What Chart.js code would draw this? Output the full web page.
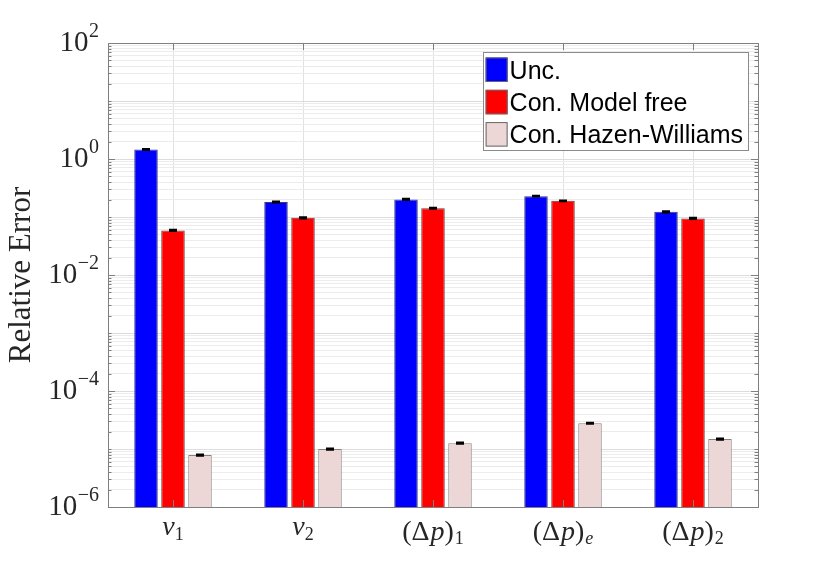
<!DOCTYPE html>
<html>
<head>
<meta charset="utf-8">
<script src="https://cdn.jsdelivr.net/npm/chart.js@4/dist/chart.umd.min.js"></script>
<style>
html,body{margin:0;padding:0;background:#fff;}
#wrap{width:837px;height:570px;}
</style>
</head>
<body>
<div id="wrap"><canvas id="c" width="837" height="570"></canvas></div>
<script>
// category labels in TeX-like notation: '_' starts a subscript, letters are italic
const categories = ['v_1', 'v_2', '(\u0394p)_1', '(\u0394p)_e', '(\u0394p)_2'];
const seriesLabels = ['Unc.', 'Con. Model free', 'Con. Hazen-Williams'];
const unc = [1.46, 0.181, 0.201, 0.229, 0.123];
const modelFree = [0.0588, 0.0969, 0.142, 0.190, 0.0946];
const hazenWilliams = [7.85e-6, 9.96e-6, 1.26e-5, 2.79e-5, 1.48e-5];
const errUnc = [0.04, 0.005, 0.006, 0.006, 0.004];
const errModelFree = [0.0018, 0.003, 0.004, 0.005, 0.003];
const errHazenWilliams = [2.5e-7, 3e-7, 4e-7, 8e-7, 4.5e-7];
const yTickExponents = [-6, -4, -2, 0, 2];

const colors = ['#0000ff', '#ff0000', '#ecd6d6'];
const errs = [errUnc, errModelFree, errHazenWilliams];
const SERIF = '"Liberation Serif", "DejaVu Serif", serif';
const TXT = '#262626';

const errorBarPlugin = {
  id: 'errorBars',
  afterDatasetsDraw(chart) {
    const ctx = chart.ctx, ys = chart.scales.y;
    ctx.save();
    ctx.strokeStyle = '#000';
    chart.data.datasets.forEach((ds, i) => {
      const meta = chart.getDatasetMeta(i);
      meta.data.forEach((el, j) => {
        const v = ds.data[j], e = errs[i][j];
        const yT = ys.getPixelForValue(v + e), yB = ys.getPixelForValue(v - e);
        ctx.lineWidth = 1.2;
        ctx.beginPath(); ctx.moveTo(el.x, yT); ctx.lineTo(el.x, yB); ctx.stroke();
        ctx.lineWidth = 1.6;
        ctx.beginPath();
        ctx.moveTo(el.x - 4, yT); ctx.lineTo(el.x + 4, yT);
        ctx.moveTo(el.x - 4, yB); ctx.lineTo(el.x + 4, yB);
        ctx.stroke();
      });
    });
    ctx.restore();
  }
};

function parseLabel(s) {
  const segs = [];
  let sub = false;
  for (const ch of s) {
    if (ch === '_') { sub = true; continue; }
    segs.push({ ch, sub, italic: /[a-z]/.test(ch) });
  }
  return segs;
}

const labelsPlugin = {
  id: 'texLabels',
  afterDraw(chart) {
    const ctx = chart.ctx, a = chart.chartArea, ys = chart.scales.y, xs = chart.scales.x;
    ctx.save();
    ctx.fillStyle = TXT;
    ctx.textBaseline = 'alphabetic';
    ctx.textAlign = 'left';
    // y tick labels 10^n
    yTickExponents.forEach(e => {
      const y = ys.getPixelForValue(Math.pow(10, e));
      const supTxt = (e < 0 ? '\u2212' : '') + Math.abs(e);
      ctx.font = '20px ' + SERIF;
      const sw = ctx.measureText(supTxt).width;
      ctx.font = '29px ' + SERIF;
      const mw = ctx.measureText('10').width;
      const right = a.left - 9;
      const sx = right - sw;
      ctx.font = '29px ' + SERIF;
      ctx.fillText('10', sx - mw - 0.5, y + 7.8);
      ctx.font = '20px ' + SERIF;
      ctx.fillText(supTxt, sx, y - 5.8);
    });
    // x category labels
    const main = 28, subs = 18;
    categories.forEach((lab, i) => {
      const cx = xs.getPixelForValue(i);
      const segs = parseLabel(lab);
      const fontOf = sg => (sg.italic ? 'italic ' : '') + (sg.sub ? subs : main) + 'px ' + SERIF;
      let w = 0;
      segs.forEach(sg => { ctx.font = fontOf(sg); sg.w = ctx.measureText(sg.ch).width + (sg.ch === '\u0394' ? 1 : 0) + (sg.ch === ')' ? 1 : 0); w += sg.w; });
      const tall = segs.some(sg => sg.ch === '(');
      const base = tall ? 539.5 : 535;
      let x = cx - w / 2;
      segs.forEach(sg => {
        ctx.font = fontOf(sg);
        ctx.fillText(sg.ch, x, sg.sub ? base + 4.5 : base);
        x += sg.w;
      });
    });
    ctx.restore();
  }
};

const frameLegendPlugin = {
  id: 'frameLegend',
  afterDraw(chart) {
    const ctx = chart.ctx, a = chart.chartArea, ys = chart.scales.y, xs = chart.scales.x;
    ctx.save();
    ctx.strokeStyle = '#7f7f7f';
    ctx.lineWidth = 1;
    ctx.strokeRect(Math.round(a.left) + 0.5, Math.round(a.top) + 0.5, Math.round(a.right - a.left), Math.round(a.bottom - a.top));
    ys.ticks.forEach(t => {
      const y = Math.round(ys.getPixelForValue(t.value)) + 0.5;
      const lg = Math.log10(t.value);
      const major = Math.abs(lg - Math.round(lg)) < 1e-9 && Math.round(lg) % 2 === 0;
      const len = major ? 7 : 3.5;
      ctx.beginPath();
      ctx.moveTo(a.left, y); ctx.lineTo(a.left + len, y);
      ctx.moveTo(a.right, y); ctx.lineTo(a.right - len, y);
      ctx.stroke();
    });
    categories.forEach((c, i) => {
      const x = Math.round(xs.getPixelForValue(i)) + 0.5;
      ctx.beginPath();
      ctx.moveTo(x, a.bottom); ctx.lineTo(x, a.bottom - 7);
      ctx.moveTo(x, a.top); ctx.lineTo(x, a.top + 7);
      ctx.stroke();
    });
    // legend
    ctx.font = '25px "Liberation Sans", Arial, sans-serif';
    let tw = 0;
    chart.data.datasets.forEach(ds => { tw = Math.max(tw, ctx.measureText(ds.label).width); });
    const bw = 3 + 22 + 2 + tw + 5;
    const bx = 748 - bw, by = 52, bh = 98;
    ctx.fillStyle = '#fff';
    ctx.fillRect(bx, by, bw, bh);
    ctx.strokeStyle = '#8a8a8a';
    ctx.strokeRect(Math.round(bx) + 0.5, by + 0.5, Math.round(bw), bh);
    chart.data.datasets.forEach((ds, i) => {
      const sy = by + 5.5 + i * 32.3;
      ctx.fillStyle = ds.backgroundColor;
      ctx.fillRect(bx + 3, sy, 22, 24.5);
      ctx.strokeStyle = '#666';
      ctx.strokeRect(bx + 3.5, sy + 0.5, 21, 23.5);
      ctx.fillStyle = '#000';
      ctx.textBaseline = 'alphabetic';
      ctx.fillText(ds.label, bx + 27, sy + 21);
    });
    ctx.restore();
  }
};

new Chart(document.getElementById('c'), {
  type: 'bar',
  data: {
    labels: categories,
    datasets: [
      { label: seriesLabels[0], data: unc, backgroundColor: colors[0], borderColor: '#3a3a6a', borderWidth: 1 },
      { label: seriesLabels[1], data: modelFree, backgroundColor: colors[1], borderColor: '#6a3a3a', borderWidth: 1 },
      { label: seriesLabels[2], data: hazenWilliams, backgroundColor: colors[2], borderColor: '#8a8080', borderWidth: 1 }
    ]
  },
  options: {
    responsive: false,
    animation: false,
    devicePixelRatio: 1,
    layout: { padding: { left: 0, right: 79, top: 43, bottom: 0 } },
    datasets: { bar: { categoryPercentage: 0.623, barPercentage: 0.87 } },
    plugins: { legend: { display: false }, tooltip: { enabled: false } },
    scales: {
      x: {
        grid: { offset: false, color: '#e2e2e2', drawTicks: false, lineWidth: 1 },
        border: { display: false },
        ticks: { display: false },
        afterFit(s) { s.height = 63; }
      },
      y: {
        type: 'logarithmic',
        min: 1e-6,
        max: 1e2,
        afterBuildTicks(s) {
          const t = [];
          for (let n = -6; n <= 1; n++) for (let k = 1; k <= 9; k++) t.push({ value: Number((k * Math.pow(10, n)).toPrecision(3)) });
          t.push({ value: 100 });
          s.ticks = t;
        },
        grid: {
          drawTicks: false,
          color(ctx) {
            const v = ctx.tick && ctx.tick.value;
            if (!v) return '#e6e6e6';
            const lg = Math.log10(v);
            return Math.abs(lg - Math.round(lg)) < 1e-9 ? '#dcdcdc' : '#ececec';
          }
        },
        border: { display: false },
        ticks: { display: false },
        title: {
          display: true,
          text: 'Relative Error',
          color: TXT,
          padding: { top: 3, bottom: 0 },
          font: { family: SERIF, size: 31 }
        },
        afterFit(s) { s.width = 108; }
      }
    }
  },
  plugins: [errorBarPlugin, frameLegendPlugin, labelsPlugin]
});
</script>
</body>
</html>
